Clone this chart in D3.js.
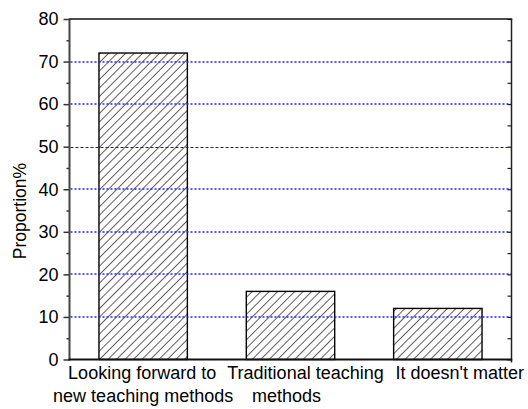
<!DOCTYPE html>
<html>
<head>
<meta charset="utf-8">
<script src="https://cdn.jsdelivr.net/npm/d3@7"></script>
<style>
  html, body { margin: 0; padding: 0; background: #fff; }
  svg { display: block; font-family: "Liberation Sans", Arial, sans-serif; }
</style>
</head>
<body>
<svg id="chart" width="528" height="409"></svg>
<script>
// ---- data ----
const categories = ["Looking forward to new teaching methods", "Traditional teaching methods", "It doesn't matter"];
const categoryLines = [["Looking forward to", "new teaching methods"], ["Traditional teaching", "methods"], ["It doesn't matter"]];
const proportions = [72, 16, 12];
const yTicks = [0, 10, 20, 30, 40, 50, 60, 70, 80];
const yMinorTicks = [5, 15, 25, 35, 45, 55, 65, 75];
const gridValues = [10, 20, 30, 40, 50, 60, 70];
const yLabel = "Proportion%";

// ---- layout ----
const plotL = 69.5, plotR = 511.5, plotT = 19, plotB = 359.5;
const labelNudge = [[-1, 0], [15, -4], [22]];

const svg = d3.select("#chart");

const x = d3.scaleBand().domain(categories).range([plotL, plotR]).paddingInner(0.4).paddingOuter(0.2);
const y = d3.scaleLinear().domain([0, 80]).range([plotB, plotT]);

// hatch pattern
const defs = svg.append("defs");
const pat = defs.append("pattern")
  .attr("id", "hatch")
  .attr("patternUnits", "userSpaceOnUse")
  .attr("width", 6).attr("height", 6)
  .attr("patternTransform", "rotate(45)");
pat.append("rect").attr("width", 6).attr("height", 6).attr("fill", "#fff");
pat.append("line").attr("x1", 0).attr("y1", 0).attr("x2", 0).attr("y2", 6)
  .attr("stroke", "#000").attr("stroke-width", 1.25);

// bars
svg.append("g").selectAll("rect")
  .data(categories)
  .join("rect")
  .attr("x", d => x(d))
  .attr("y", (d, i) => y(proportions[i]))
  .attr("width", x.bandwidth())
  .attr("height", (d, i) => y(0) - y(proportions[i]))
  .attr("fill", "url(#hatch)")
  .attr("stroke", "#000")
  .attr("stroke-width", 1.4);

// grid lines (on top of bars)
svg.append("g").selectAll("line")
  .data(gridValues)
  .join("line")
  .attr("x1", plotL + 1).attr("x2", plotR)
  .attr("y1", d => d === 50 ? Math.round(y(d)) + 0.5 : Math.round(y(d)))
  .attr("y2", d => d === 50 ? Math.round(y(d)) + 0.5 : Math.round(y(d)))
  .attr("stroke", d => d === 50 ? "#202060" : "#2222ff")
  .attr("stroke-width", d => d === 50 ? 1 : 1.3)
  .attr("stroke-dasharray", d => d === 50 ? "3,2" : "2,2");

// left axis
const yAxis = d3.axisLeft(y).tickValues(yTicks).tickSize(6).tickPadding(5).tickFormat(d3.format("d"));
const gy = svg.append("g").attr("transform", `translate(${plotL},0)`).call(yAxis);
gy.select(".domain").remove();
gy.selectAll(".tick line").attr("stroke", "#333").attr("stroke-width", 1.5);
gy.selectAll(".tick text").attr("font-size", 18).attr("fill", "#000")
  .attr("font-family", "'Liberation Sans', Arial, sans-serif");

const yMinor = d3.axisLeft(y).tickValues(yMinorTicks).tickSize(3).tickFormat("");
const gym = svg.append("g").attr("transform", `translate(${plotL},0)`).call(yMinor);
gym.select(".domain").remove();
gym.selectAll(".tick line").attr("stroke", "#333").attr("stroke-width", 1.5);

// right axis ticks (inward)
const yRight = d3.axisLeft(y).tickValues(yTicks.concat(yMinorTicks)).tickSize(4).tickFormat("");
const gr = svg.append("g").attr("transform", `translate(${plotR},0)`).call(yRight);
gr.select(".domain").remove();
gr.selectAll(".tick line").attr("stroke", "#222").attr("stroke-width", 1.2);

// frame
svg.append("line").attr("x1", plotL).attr("x2", plotL).attr("y1", plotT - 0.5).attr("y2", plotB + 1)
  .attr("stroke", "#444").attr("stroke-width", 2);
svg.append("line").attr("x1", plotL).attr("x2", plotR + 0.75).attr("y1", plotT).attr("y2", plotT)
  .attr("stroke", "#111").attr("stroke-width", 1.5);
svg.append("line").attr("x1", plotR).attr("x2", plotR).attr("y1", plotT).attr("y2", plotB + 3)
  .attr("stroke", "#222").attr("stroke-width", 1.5);
svg.append("line").attr("x1", plotL - 1).attr("x2", plotR + 0.75).attr("y1", plotB).attr("y2", plotB)
  .attr("stroke", "#111").attr("stroke-width", 2);

// category labels
const catG = svg.append("g").attr("font-size", 18).attr("fill", "#000").attr("text-anchor", "middle");
categories.forEach((c, i) => {
  const cx = x(c) + x.bandwidth() / 2;
  categoryLines[i].forEach((line, j) => {
    catG.append("text")
      .attr("x", cx + labelNudge[i][j])
      .attr("y", 379 + j * 22.5)
      .text(line);
  });
});

// y label
svg.append("text")
  .attr("transform", `translate(26,211) rotate(-90)`)
  .attr("text-anchor", "middle")
  .attr("font-size", 17.5)
  .attr("fill", "#000")
  .text(yLabel);
</script>
</body>
</html>
